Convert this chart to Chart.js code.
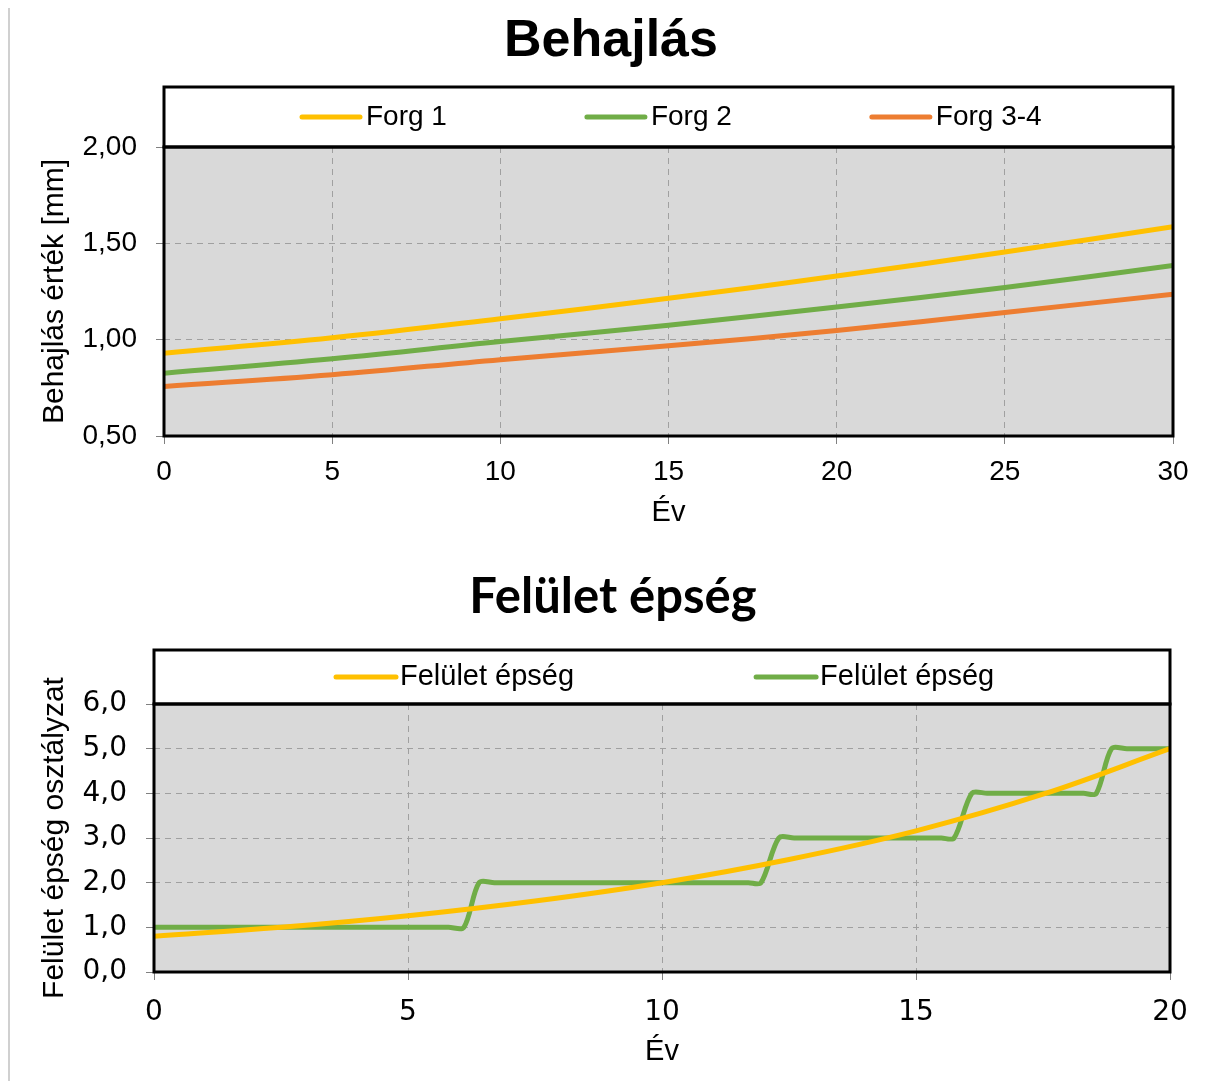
<!DOCTYPE html>
<html>
<head>
<meta charset="utf-8">
<script src="https://cdn.jsdelivr.net/npm/chart.js@4.4.1/dist/chart.umd.min.js"></script>
<style>
  html, body { margin: 0; padding: 0; background: #fff; }
  body { position: relative; width: 1218px; height: 1081px; overflow: hidden; }
  .edge { position: absolute; left: 8px; top: 8px; width: 2px; height: 1073px; background: #d0d0d0; }
  canvas { position: absolute; left: 0; display: block; }
  #behajlas { top: 0; }
  #felulet { top: 545px; }
</style>
</head>
<body>
<div class="edge"></div>
<canvas id="behajlas" width="1218" height="545"></canvas>
<canvas id="felulet" width="1218" height="536"></canvas>
<script>
// --- Behajlás (deflection) ---
const evek1 = [0, 5, 10, 15, 20, 25, 30];
const forg1 = [0.930, 1.010, 1.109, 1.215, 1.330, 1.455, 1.586];
const forg2 = [0.826, 0.901, 0.990, 1.075, 1.170, 1.271, 1.385];
const forg34 = [0.757, 0.818, 0.896, 0.968, 1.048, 1.141, 1.236];
const labels1 = ['Forg 1', 'Forg 2', 'Forg 3-4'];

// --- Felület épség (surface condition) ---
const evekSarga = [0, 2.5, 5, 7.5, 10, 12.5, 15, 17.5, 20];
const feluletSarga = [0.80, 1.00, 1.26, 1.59, 2.00, 2.52, 3.16, 3.98, 5.00];
const evekZold = [0, 5.8, 6.1, 6.4, 6.7, 11.7, 11.95, 12.3, 12.6, 15.5, 15.75, 16.1, 16.4, 18.3, 18.55, 18.85, 19.15, 20];
const feluletZold = [1, 1, 1, 2, 2, 2, 2, 3, 3, 3, 3, 4, 4, 4, 4, 5, 5, 5];
const labels2 = ['Felület épség', 'Felület épség'];

const YELLOW = '#FFC000';
const GREEN = '#70AD47';
const ORANGE = '#ED7D31';
const PLOT_BG = '#d9d9d9';
const GRID = '#a0a0a0';
const ARIAL = "'Liberation Sans', Arial, sans-serif";
const VERDANA = "'DejaVu Sans', Verdana, sans-serif";

const zip = (xs, ys) => xs.map((x, i) => ({ x: x, y: ys[i] }));
const comma = (v, d) => v.toFixed(d).replace('.', ',');

// grey plot background, title, black frame and the boxed legend above the plot
const frame = {
  id: 'frame',
  beforeDraw(chart) {
    const { ctx, chartArea: a } = chart;
    ctx.save();
    ctx.fillStyle = PLOT_BG;
    ctx.fillRect(a.left, a.top, a.right - a.left, a.bottom - a.top);
    ctx.restore();
  },
  afterDraw(chart, args, opts) {
    const { ctx, chartArea: a } = chart;
    ctx.save();
    ctx.fillStyle = '#000';
    ctx.font = opts.titleFont;
    ctx.textAlign = 'center';
    ctx.textBaseline = 'middle';
    ctx.fillText(opts.title, opts.titleX, opts.titleY);

    ctx.lineWidth = 3;
    ctx.strokeStyle = '#000';
    ctx.strokeRect(a.left, opts.top, a.right - a.left, a.top - opts.top);
    ctx.strokeRect(a.left, a.top, a.right - a.left, a.bottom - a.top);

    const y = (opts.top + a.top) / 2;
    ctx.font = opts.font;
    ctx.textAlign = 'left';
    ctx.lineCap = 'round';
    let x = opts.x0;
    chart.data.datasets.forEach(ds => {
      ctx.strokeStyle = ds.borderColor;
      ctx.lineWidth = 5;
      ctx.beginPath();
      ctx.moveTo(x, y);
      ctx.lineTo(x + opts.lineLen, y);
      ctx.stroke();
      ctx.fillStyle = '#000';
      ctx.fillText(ds.label, x + opts.lineLen + opts.gap, y);
      x += opts.lineLen + opts.gap + ctx.measureText(ds.label).width + opts.pad;
    });
    ctx.restore();
  }
};

function lineSet(label, data, color, tension) {
  return {
    label: label,
    data: data,
    borderColor: color,
    backgroundColor: color,
    borderWidth: 5,
    borderCapStyle: 'round',
    pointRadius: 0,
    tension: tension,
    fill: false
  };
}

new Chart(document.getElementById('behajlas'), {
  type: 'line',
  data: {
    datasets: [
      lineSet(labels1[0], zip(evek1, forg1), YELLOW, 0.4),
      lineSet(labels1[1], zip(evek1, forg2), GREEN, 0.4),
      lineSet(labels1[2], zip(evek1, forg34), ORANGE, 0.4)
    ]
  },
  options: {
    responsive: false,
    animation: false,
    layout: { padding: { left: 0, right: 45, top: 147, bottom: 0 } },
    plugins: {
      legend: { display: false },
      tooltip: { enabled: false },
      title: { display: false },
      frame: {
        title: 'Behajlás', titleFont: 'bold 52px ' + ARIAL, titleX: 611, titleY: 42,
        top: 87, x0: 302, lineLen: 58, gap: 6, pad: 140, font: '28px ' + ARIAL
      }
    },
    scales: {
      x: {
        type: 'linear',
        min: 0, max: 30,
        ticks: { stepSize: 5, color: '#000', padding: 11, font: { family: ARIAL, size: 28 } },
        grid: { color: GRID, borderDash: [6, 5], tickLength: 8, tickColor: '#808080' },
        border: { display: false, dash: [6, 5] },
        title: { display: true, text: 'Év', color: '#000', font: { family: ARIAL, size: 29 }, padding: { top: 0, bottom: 14.6 } },
        afterFit: s => { s.height = 109; }
      },
      y: {
        min: 0.5, max: 2.0,
        ticks: { stepSize: 0.5, color: '#000', padding: 19, font: { family: ARIAL, size: 28 }, callback: v => comma(v, 2) },
        grid: { color: GRID, borderDash: [6, 5], tickLength: 8, tickColor: '#808080' },
        border: { display: false, dash: [6, 5] },
        title: { display: true, text: 'Behajlás érték [mm]', color: '#000', font: { family: ARIAL, size: 30 }, padding: { top: 37, bottom: 0 } },
        afterFit: s => { s.width = 164; }
      }
    }
  },
  plugins: [frame]
});

new Chart(document.getElementById('felulet'), {
  type: 'line',
  data: {
    datasets: [
      lineSet(labels2[0], zip(evekSarga, feluletSarga), YELLOW, 0.4),
      lineSet(labels2[1], zip(evekZold, feluletZold), GREEN, 0.3)
    ]
  },
  options: {
    responsive: false,
    animation: false,
    layout: { padding: { left: 0, right: 48, top: 159, bottom: 0 } },
    plugins: {
      legend: { display: false },
      tooltip: { enabled: false },
      title: { display: false },
      frame: {
        title: 'Felület épség', titleFont: "bold 49px Lato, 'Open Sans', sans-serif", titleX: 613, titleY: 52,
        top: 105, x0: 336, lineLen: 60, gap: 4, pad: 182, font: '29px ' + ARIAL
      }
    },
    scales: {
      x: {
        type: 'linear',
        min: 0, max: 20,
        ticks: { stepSize: 5, color: '#000', padding: 16, font: { family: VERDANA, size: 28 } },
        grid: { color: GRID, borderDash: [6, 5], tickLength: 8, tickColor: '#808080' },
        border: { display: false, dash: [6, 5] },
        title: { display: true, text: 'Év', color: '#000', font: { family: ARIAL, size: 29 }, padding: { top: 0, bottom: 11.6 } },
        afterFit: s => { s.height = 109; }
      },
      y: {
        min: 0, max: 6,
        ticks: { stepSize: 1, color: '#000', padding: 19, font: { family: VERDANA, size: 28 }, callback: v => comma(v, 1) },
        grid: { color: GRID, borderDash: [6, 5], tickLength: 8, tickColor: '#808080' },
        border: { display: false, dash: [6, 5] },
        title: { display: true, text: 'Felület épség osztályzat', color: '#000', font: { family: ARIAL, size: 30 }, padding: { top: 37, bottom: 0 } },
        afterFit: s => { s.width = 154; }
      }
    }
  },
  plugins: [frame]
});
</script>
</body>
</html>
